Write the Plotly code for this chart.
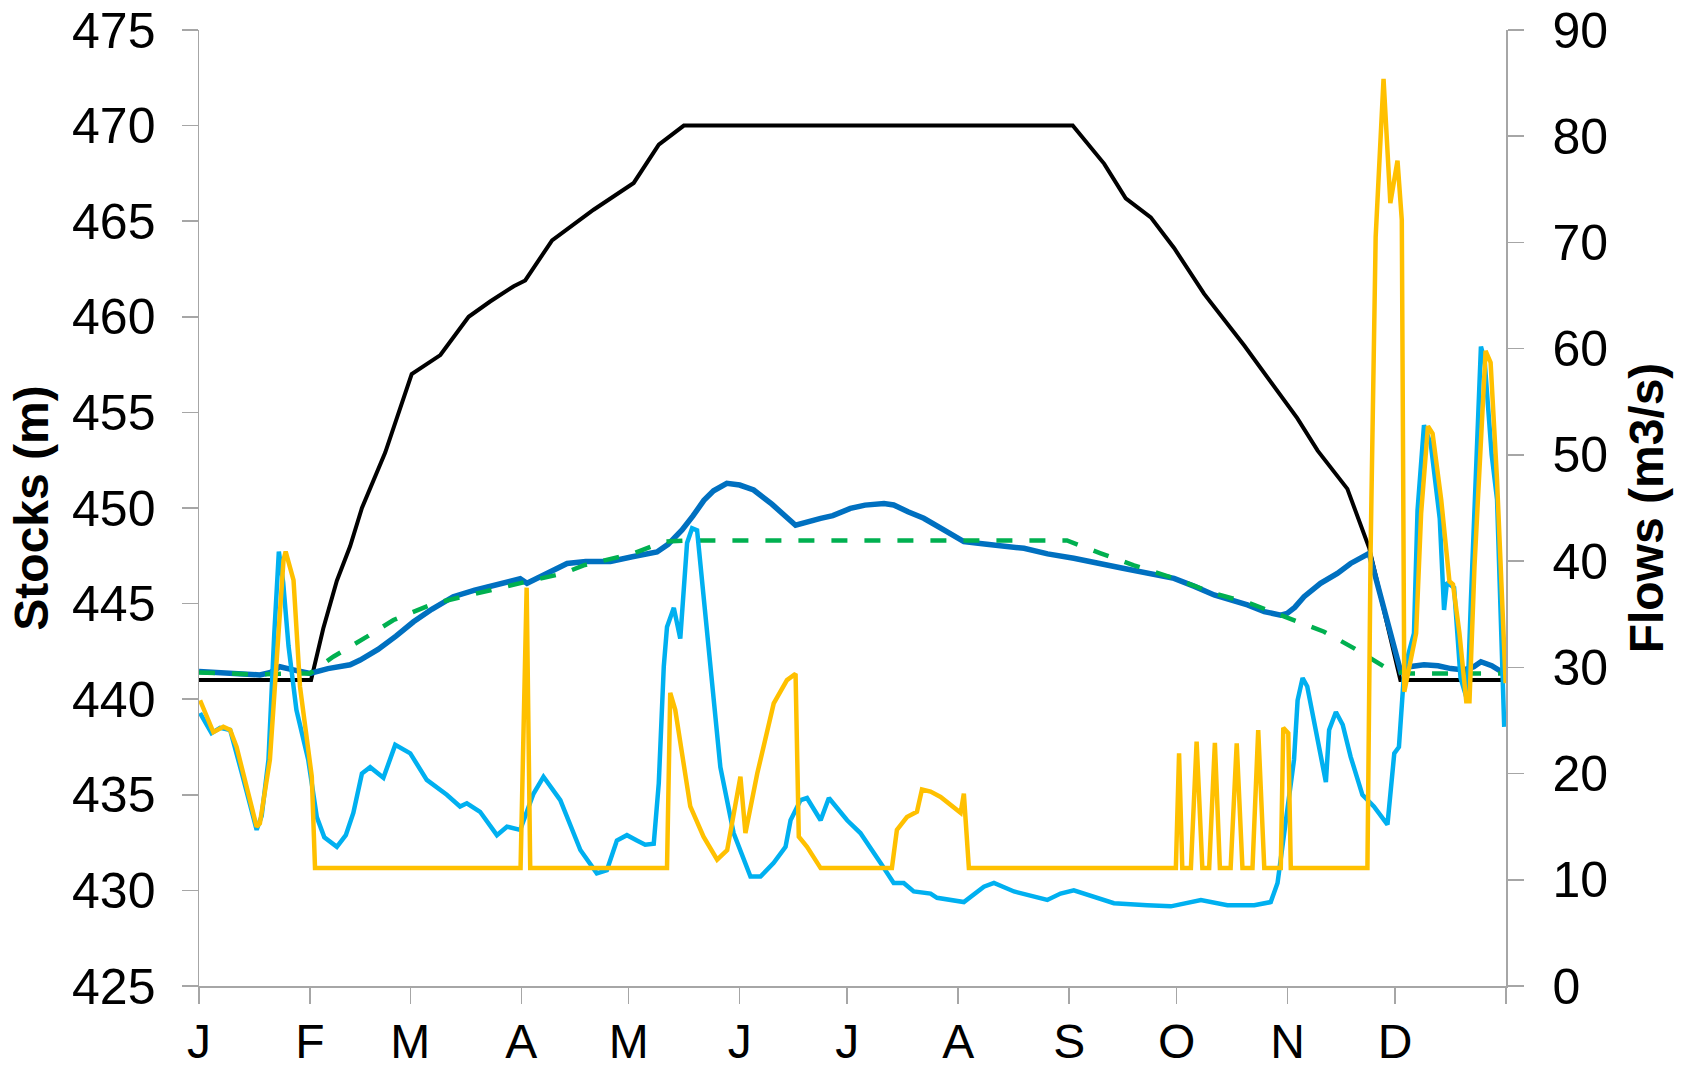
import plotly.graph_objects as go

# ---- X axis: day of year, month ticks ----
month_starts = [0, 31, 59, 90, 120, 151, 181, 212, 243, 273, 304, 334, 365]
month_labels = ["J", "F", "M", "A", "M", "J", "J", "A", "S", "O", "N", "D", ""]

# ---- Stocks (m), left axis ----
max_curve_day = [0, 31.3, 34.7, 38.5, 42.2, 45.5, 52, 59.4, 67.4, 75.3, 81.3, 87.9, 91.1,
                 98.6, 110.2, 121.4, 128.4, 132.1, 135.4, 244, 252.8, 258.8, 265.8, 272.3,
                 280.7, 291.9, 306.7, 312.4, 320.7, 326.8, 335.5, 365]
max_curve_val = [441, 441, 443.7, 446.2, 448, 450, 452.9, 457, 458, 460, 460.8, 461.6, 461.9,
                 464, 465.6, 467, 469, 469.5, 470, 470, 468, 466.2, 465.2, 463.6,
                 461.2, 458.5, 454.7, 453, 451, 447.9, 441, 441]

stock_day = [0, 10, 17, 20, 22.6, 26, 31, 36, 42.2, 45, 50, 55, 59.9, 65, 71, 77, 83.2, 89.7,
             91.6, 96, 102.8, 108, 114.9, 121, 127.9, 131, 134.9, 138, 141, 143.7, 147.4, 151,
             154.9, 160, 166.6, 173.6, 177, 181.9, 186, 191.3, 194, 198, 202.4, 208, 213.6, 220,
             230.4, 237, 244.3, 258, 272.3, 278, 283.5, 292.8, 297.5, 302.1, 303.9, 306, 308.6,
             313.2, 317.9, 321.6, 326.8, 335.6, 338, 342.1, 346, 349.6, 353.3, 356, 358, 361,
             364.5, 365]
stock_val = [441.45, 441.35, 441.27, 441.4, 441.7, 441.55, 441.35, 441.6, 441.8, 442.05, 442.6,
             443.3, 444.05, 444.7, 445.36, 445.7, 445.97, 446.3, 446.06, 446.5, 447.1, 447.2,
             447.2, 447.45, 447.7, 448.1, 448.85, 449.6, 450.4, 450.9, 451.29, 451.2, 450.94,
             450.2, 449.1, 449.46, 449.6, 449.98, 450.15, 450.24, 450.16, 449.8, 449.46, 448.85,
             448.24, 448.1, 447.89, 447.6, 447.37, 446.85, 446.32, 445.9, 445.45, 444.93, 444.58,
             444.4, 444.49, 444.8, 445.36, 446.06, 446.58, 447.1, 447.63, 441.44, 441.7, 441.8,
             441.75, 441.6, 441.53, 441.7, 441.96, 441.75, 441.35, 441.3]

target_day = [0, 15, 31, 37.5, 46.9, 54.3, 65.5, 78.5, 91.6, 101.8, 107.4, 121.4, 129.8, 136.3,
              242.4, 251.8, 261.1, 272.3, 283.5, 293.7, 305.8, 314.2, 322.6, 331, 336.6, 365]
target_val = [441.4, 441.3, 441.35, 442.22, 443.27, 444.14, 445.0, 445.6, 446.15, 446.58, 447.0,
              447.63, 448.24, 448.3, 448.3, 447.63, 447.0, 446.32, 445.54, 445.0, 444.14, 443.53,
              442.66, 441.7, 441.35, 441.35]

# ---- Flows (m3/s), right axis ----
inflow_day = [0.3, 3.5, 5.9, 8.7, 12, 16.1, 17.5, 19.4, 21, 22.3, 23.5, 25, 27.2, 30.5, 32.9, 35,
              38.5, 41, 43.1, 45.5, 47.8, 51.5, 54.8, 59, 63.6, 69.2, 72.9, 74.8, 78.5, 83.2, 86,
              89.7, 93.4, 96.2, 100.9, 106.5, 111.1, 113.9, 116.7, 119.5, 122.3, 124.6, 127,
              128.4, 129.8, 130.7, 132.6, 134.4, 136.3, 137.7, 139.1, 141.9, 145.6, 149.3, 154,
              156.8, 160.5, 163.8, 165.2, 168, 169.8, 173.6, 175.9, 181, 184.7, 190.3, 194, 196.8,
              199.6, 204.3, 206.1, 213.6, 219.2, 222, 227.6, 236.9, 240.6, 244.3, 255.5, 264.8,
              271.4, 279.8, 287.2, 294.7, 299.3, 301.2, 303.1, 305.8, 306.8, 308.2, 309.5, 312.4,
              314.7, 315.6, 317.5, 319.4, 321.6, 324.9, 328.1, 331.9, 333.8, 335.1, 336.6, 339.3,
              340.3, 342.1, 344, 346.5, 347.7, 348.5, 350.5, 352.3, 354.2, 355.2, 357.1, 358, 359,
              361, 362.5, 364.5]
inflow_val = [25.7, 23.8, 24.3, 24.1, 20, 14.7, 16, 21.3, 33, 40.9, 38, 32, 26.0, 21.3, 15.9, 14,
              13.1, 14.2, 16.3, 20.0, 20.6, 19.6, 22.7, 21.9, 19.4, 18.0, 16.9, 17.2, 16.4, 14.2,
              15.0, 14.7, 18.1, 19.7, 17.5, 12.8, 10.6, 10.9, 13.7, 14.2, 13.7, 13.3, 13.4, 19.1,
              30.1, 33.8, 35.6, 32.7, 41.7, 43.1, 42.9, 33.2, 20.6, 14.4, 10.3, 10.3, 11.6, 13.1,
              15.6, 17.5, 17.7, 15.6, 17.7, 15.6, 14.4, 11.6, 9.7, 9.7, 8.9, 8.7, 8.3, 7.9, 9.35,
              9.7, 8.9, 8.1, 8.7, 9.0, 7.8, 7.6, 7.5, 8.1, 7.6, 7.6, 7.9, 9.7, 14.4, 21.3, 26.9,
              29.0, 28.2, 22.9, 19.2, 24.1, 25.8, 24.6, 21.6, 18.0, 16.9, 15.2, 21.9, 22.5, 29.8,
              33.2, 44.8, 52.8, 51, 44, 35.4, 38.0, 37.5, 29, 26.9, 36.3, 52, 60.2, 59, 50, 45.8,
              24.4]

release_day = [0.3, 2.2, 4, 6.8, 8.7, 10.5, 16.1, 17, 19.8, 21.7, 23.6, 24.2, 25.5, 26.4, 28.2,
               31.5, 32.4, 89.8, 91.5, 92.5, 130.7, 131.6, 133, 137.2, 140.9, 144.7, 147.5, 149.3,
               151.2, 152.6, 155.9, 160.5, 164.2, 166.6, 167.5, 169.8, 173.6, 193.5, 194.9, 197.7,
               200.5, 201.9, 204.3, 207.1, 212.7, 213.6, 215, 272.8, 273.7, 274.6, 277, 278.6,
               280.2, 282.1, 283.7, 285.1, 288.1, 289.8, 291.4, 294.2, 295.8, 297.5, 302.1, 302.8,
               304.2, 304.9, 326.3, 327.2, 328.6, 330.8, 332.7, 334.7, 335.9, 336.6, 338.5, 339.9,
               341.3, 343.2, 344.5, 346.9, 349.2, 350.2, 352, 353.9, 354.8, 356.2, 359.3, 360.7,
               362.5, 364.9]
release_val = [26.9, 25.4, 23.9, 24.4, 24.1, 22.5, 15.0, 15.3, 21.3, 30.7, 40.1, 40.9, 39.5, 38.2,
               28.2, 19.7, 11.1, 11.1, 37.5, 11.1, 11.1, 27.6, 26.0, 16.9, 14.06, 11.9, 12.8,
               15.9, 19.7, 14.4, 20.0, 26.6, 28.8, 29.4, 14.06, 13.1, 11.1, 11.1, 14.7, 15.9,
               16.4, 18.5, 18.3, 17.8, 16.3, 18.1, 11.1, 11.1, 21.9, 11.1, 11.1, 23.0, 11.1, 11.1,
               22.9, 11.1, 11.1, 22.85, 11.1, 11.1, 24.1, 11.1, 11.1, 24.3, 23.8, 11.1, 11.1, 41.2,
               70.5, 85.4, 73.7, 77.7, 72.1, 27.7, 31.0, 33.2, 44.5, 52.7, 52.0, 45.8, 38.1, 37.8,
               33.2, 26.8, 26.8, 39.5, 59.8, 58.7, 47.6, 28.5]

FONT = "Liberation Sans, Arial, sans-serif"
AX = "#A6A6A6"

fig = go.Figure()
fig.add_trace(go.Scatter(x=max_curve_day, y=max_curve_val, mode="lines",
                         line=dict(color="#000000", width=4), name="Max level"))
fig.add_trace(go.Scatter(x=stock_day, y=stock_val, mode="lines",
                         line=dict(color="#0070C0", width=5.5), name="Stock"))
fig.add_trace(go.Scatter(x=target_day, y=target_val, mode="lines",
                         line=dict(color="#00B050", width=4.5, dash="16px,17px"), name="Target"))
fig.add_trace(go.Scatter(x=inflow_day, y=inflow_val, mode="lines", yaxis="y2",
                         line=dict(color="#00B0F0", width=4.5), name="Inflow"))
fig.add_trace(go.Scatter(x=release_day, y=release_val, mode="lines", yaxis="y2",
                         line=dict(color="#FFC000", width=4.5), name="Release"))

axis_common = dict(showgrid=False, zeroline=False, showline=True, linecolor=AX, linewidth=1.5,
                   ticks="outside", ticklen=16, tickwidth=1.5, tickcolor=AX, automargin=False,
                   ticklabeloverflow="allow",
                   tickfont=dict(family=FONT, size=50, color="#000000"))

fig.update_layout(
    width=1688, height=1068, autosize=False,
    margin=dict(l=199, r=182, t=30, b=82),
    paper_bgcolor="white", plot_bgcolor="white",
    showlegend=False,
    xaxis=dict(range=[0, 365], tickmode="array", tickvals=month_starts, ticktext=month_labels,
               **{**axis_common, "tickfont": dict(family=FONT, size=48, color="#000000")},
               ticklabelstandoff=-3),
    yaxis=dict(range=[425, 475], tickmode="linear", tick0=425, dtick=5,
               title=dict(text="<b>Stocks (m)</b>", font=dict(family=FONT, size=48, color="#000000"),
                          standoff=8),
               ticklabelstandoff=16, **axis_common),
    yaxis2=dict(range=[0, 90], tickmode="linear", tick0=0, dtick=10, overlaying="y", side="right",
                title=dict(text="<b>Flows (m3/s)</b>", font=dict(family=FONT, size=48, color="#000000"),
                           standoff=22),
                ticklabelstandoff=19, **axis_common),
)

# remove the page's default body margin so the figure fills the window exactly
fig.write_html("out.html",
               config={"displayModeBar": False, "staticPlot": True},
               post_script="document.body.style.margin='0';document.body.style.overflow='hidden';")
